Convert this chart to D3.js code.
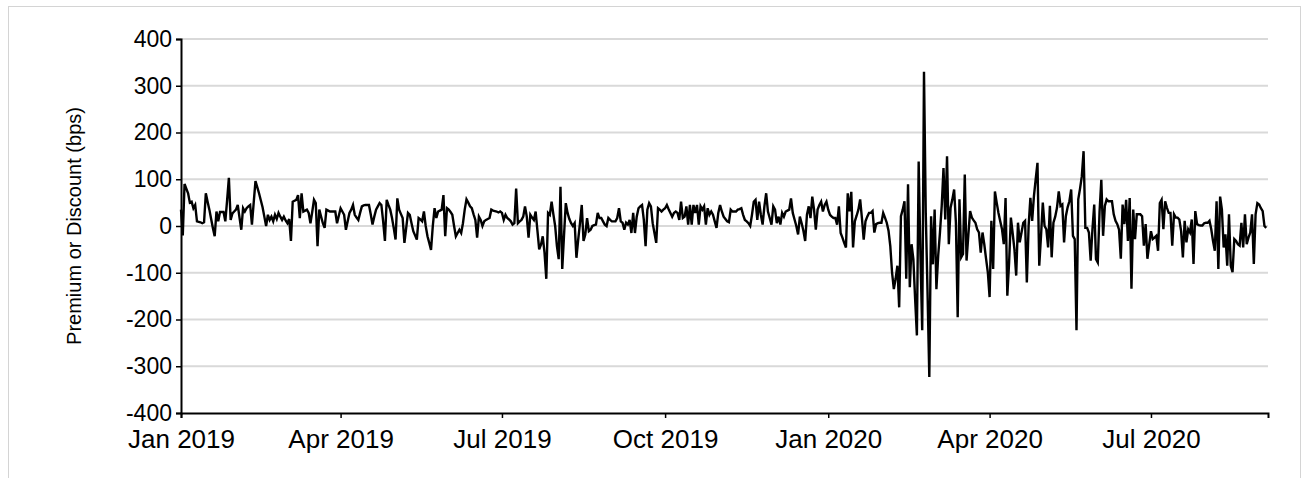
<!DOCTYPE html>
<html>
<head>
<meta charset="utf-8">
<script src="https://cdn.jsdelivr.net/npm/d3@7"></script>
<style>
  body { margin: 0; background: #fff; }
  svg text { font-family: "Liberation Sans", Arial, sans-serif; fill: #000; }
</style>
</head>
<body>
<svg id="chart" width="1302" height="478"></svg>
<script>
// Daily premium / discount to NAV, in basis points, starting 1 Jan 2019.
const firstDay = "2019-01-01";
const axisEnd = "2020-09-05";

const jan2019 = [35,-20,90,80,70,50,52,38,45,10,9,8,6,8,70,52,35,15,-5,-22,31,10,30,30,30,10,55,103,13,27,31,35,45,18,-8,38,31,38,42,45,3,50,96,83,70,55,40,20,0,24,13,20,10,24,15];
const feb2019 = [28,20,13,20,12,6,15,-32,52,54,56,66,17,70,31,33,35,28,6,30,56,49,-43,35,20,6,-4,35,33,31,31,31,31,6,22,38,31,24,-8,10,28,35,45,24,18,13,28,42,44,45,45,45,25,3,20,35];
const apr2019 = [42,49,45,10,-32,56,45,35,17,-5,-29,59,35,26,17,-36,-4,28,24,6,-11,-20,-29,17,14,10,31,0,-22,-36,-51,0,38,17,31,33,35,66,-22,38,35,30,24,0,-22,-15,-8,-15,6,35,57,50,42,38,25,13];
const jun2019 = [-25,20,13,0,10,13,15,17,35,33,32,31,29,31,28,13,24,17,14,10,3,6,80,6,10,13,20,42,20,-25,24,18,13,31,-10,-50,-40,-22,-57,-113,28,24,52,25,0,-43,-71,84,-92,-20,49,28,15,6,0,6];
const aug2019 = [-68,-29,6,45,-32,-18,17,-11,-8,0,2,3,28,17,17,10,3,0,17,13,10,10,10,17,38,10,7,-8,7,3,13,-15,28,-15,20,38,42,45,13,-43,35,49,42,6,-15,-36,38,35,31,35,38,45,36,28,20,28,31];
const oct2019 = [28,13,52,17,20,42,3,45,3,45,28,45,3,42,35,42,3,38,24,31,24,10,-4,28,45,31,20,15,10,8,35,31,31,31,35,36,38,24,13,10,6,0,24,52,56,13,52,24,3,42,70,31,17,3,42,35];
const dec2019 = [6,20,3,28,20,31,33,35,59,28,14,0,-18,20,6,-10,-32,24,42,17,63,35,-8,35,45,52,31,45,52,35,24,20,17,17,3,42,-15,-25,-36,-46,70,31,73,-46,10,22,35,57,17,-29,10,20,28];
const jan2020 = [28,32,-14,4,6,7,7,28,18,7,-10,-43,-100,-135,-113,-85,-174,21,35,53,-113,89,-131,-39,-71,-156,-234,138,-64,-223,330,28,-142,-323,21,-82,35,-135,-64,-14,43,124,14,149,-39,39,57,78,7,-195,57,-67];
const mar2020 = [-60,110,-74,-20,32,18,12,7,-7,-14,-57,-14,-39,-70,-99,-152,11,-92,74,50,28,10,-7,-39,60,-149,-78,18,-15,-50,-106,7,-35,-14,7,11,-121,0,60,11,64,100,135,-85,-21];
const may2020 = [50,0,-7,-46,43,-67,7,20,39,74,43,46,-35,21,40,53,78,-21,-28,-223,57,80,106,160,-4,-4,-14,-74,-7,46,-71,-78,30,99,-21,43,57,53,53,53,25,11,4,-8,-70];
const jun2020 = [46,4,56,-32,60,-134,35,-28,25,25,25,21,-42,4,-70,-40,-11,-28,-25,-21,-53,49,56,-7,53,39,28,28,-42,25,18,18,14,-11,-67,11,-35,-7,-14,14,-81,32];
const aug2020 = [4,2,1,1,6,7,7,11,-7,-32,-53,53,-92,63,35,-46,-18,-85,25,-85,-99,-28,-32,-39,-42,7,-46,25,-39,-25,-14,25,-81,25,49,46,38,32,0,-4];

const premium = [].concat(jan2019, feb2019, apr2019, jun2019, aug2019, oct2019,
                          dec2019, jan2020, mar2020, may2020, jun2020, aug2020);

const yTicks = [400, 300, 200, 100, 0, -100, -200, -300, -400];
const xTickDates = ["2019-01-01","2019-04-01","2019-07-01","2019-10-01","2020-01-01","2020-04-01","2020-07-01"];
const xTickLabels = ["Jan 2019","Apr 2019","Jul 2019","Oct 2019","Jan 2020","Apr 2020","Jul 2020"];
const yTitle = "Premium or Discount (bps)";

const parse = d3.utcParse("%Y-%m-%d");
const start = parse(firstDay);
const series = premium.map((v, i) => ({ date: d3.utcDay.offset(start, i), value: v }));

const svg = d3.select("#chart");
const W = 1302, H = 478;
const plot = { left: 181, right: 1268, top: 39, bottom: 413 };

// outer frame
svg.append("rect")
  .attr("x", 8.5).attr("y", 6.5)
  .attr("width", W - 10).attr("height", H)
  .attr("fill", "none").attr("stroke", "#d4d4d4").attr("stroke-width", 1);

const x = d3.scaleUtc()
  .domain([start, parse(axisEnd)])
  .range([plot.left, plot.right]);
const y = d3.scaleLinear()
  .domain([-400, 400])
  .range([plot.bottom, plot.top]);

// horizontal gridlines
svg.append("g")
  .selectAll("line")
  .data(yTicks.filter(t => t > -400))
  .join("line")
  .attr("x1", plot.left).attr("x2", plot.right)
  .attr("y1", d => y(d)).attr("y2", d => y(d))
  .attr("stroke", "#d9d9d9").attr("stroke-width", 2);

// y axis
const yAxis = svg.append("g")
  .attr("transform", `translate(${plot.left},0)`)
  .call(d3.axisLeft(y).tickValues(yTicks).tickSize(5).tickPadding(4)
    .tickFormat(d => String(d)));
yAxis.select(".domain").attr("stroke", "#000").attr("stroke-width", 2);
yAxis.selectAll(".tick line").attr("stroke", "#000").attr("stroke-width", 1.5);
yAxis.selectAll(".tick text").attr("font-size", 23).attr("font-family", "Liberation Sans, Arial, sans-serif");

// x axis
const xAxis = svg.append("g")
  .attr("transform", `translate(0,${plot.bottom})`)
  .call(d3.axisBottom(x)
    .tickValues(xTickDates.map(parse))
    .tickSize(5).tickPadding(12)
    .tickFormat((d, i) => xTickLabels[i]));
xAxis.select(".domain").attr("stroke", "#000").attr("stroke-width", 2);
xAxis.selectAll(".tick line").attr("stroke", "#000").attr("stroke-width", 1.5);
xAxis.selectAll(".tick text").attr("font-size", 26).attr("font-family", "Liberation Sans, Arial, sans-serif");

// y axis title
svg.append("text")
  .attr("transform", `translate(81,${(plot.top + plot.bottom) / 2}) rotate(-90)`)
  .attr("text-anchor", "middle")
  .attr("font-size", 20)
  .text(yTitle);

// series line
const line = d3.line()
  .x(d => x(d.date))
  .y(d => y(d.value));
svg.append("path")
  .datum(series)
  .attr("fill", "none")
  .attr("stroke", "#000")
  .attr("stroke-width", 2.4)
  .attr("stroke-linejoin", "miter")
  .attr("d", line);
</script>
</body>
</html>
